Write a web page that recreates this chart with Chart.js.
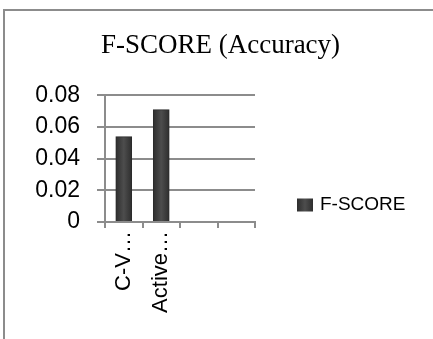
<!DOCTYPE html>
<html>
<head>
<meta charset="utf-8">
<script src="https://cdn.jsdelivr.net/npm/chart.js@4.4.1/dist/chart.umd.min.js"></script>
<style>
    html, body { margin: 0; padding: 0; background: #fff; overflow: hidden; }
    #frame {
        position: absolute; left: 3px; top: 9px; width: 520px; height: 420px;
        border-left: 2px solid #8c8c8c; border-top: 2px solid #8c8c8c;
    }
    #wrap { position: absolute; left: 0; top: 0; width: 433px; height: 339px; }
</style>
</head>
<body>
<div id="frame"></div>
<div id="wrap"><canvas id="fscoreChart" width="433" height="339"></canvas></div>
<script>
// Datos
const categorias = ['C-V…', 'Active…', '', ''];
const valoresFScore = [0.054, 0.071, null, null];
const ticksY = [0, 0.02, 0.04, 0.06, 0.08];

// Degradado horizontal de las barras (efecto de relieve)
function degradadoBarra(ctx, x0, ancho) {
    const g = ctx.createLinearGradient(x0, 0, x0 + ancho, 0);
    g.addColorStop(0, '#2e2e2e');
    g.addColorStop(0.5, '#4d4d4d');
    g.addColorStop(1, '#2e2e2e');
    return g;
}

// Leyenda a la derecha, dibujada a mano (la de Chart.js queda limitada de ancho)
const leyendaDerecha = {
    id: 'leyendaDerecha',
    afterDraw(chart) {
        const { ctx, chartArea } = chart;
        const ds = chart.data.datasets[0];
        const x = chartArea.right + 42;
        const y = chartArea.bottom - 17;
        ctx.save();
        ctx.fillStyle = degradadoBarra(ctx, x, 16);
        ctx.fillRect(x, y - 6.5, 16, 13);
        ctx.fillStyle = '#000';
        ctx.font = "19px 'Liberation Sans', Arial, sans-serif";
        ctx.textBaseline = 'middle';
        ctx.fillText(ds.label, x + 23, y);
        ctx.restore();
    }
};

document.addEventListener('DOMContentLoaded', function() {
    Chart.defaults.color = '#000';
    Chart.defaults.font.family = "'Liberation Sans', Arial, sans-serif";

    const ctx = document.getElementById('fscoreChart').getContext('2d');
    const fscoreChart = new Chart(ctx, {
        type: 'bar',
        data: {
            labels: categorias,
            datasets: [{
                label: 'F-SCORE',
                data: valoresFScore,
                backgroundColor: function(context) {
                    const chart = context.chart;
                    if (context.type !== 'data' || !chart.scales || !chart.scales.x) return '#3e3e3e';
                    const cx = chart.scales.x.getPixelForValue(context.dataIndex);
                    if (!isFinite(cx)) return '#3e3e3e';
                    return degradadoBarra(chart.ctx, cx - 8, 16);
                },
                borderColor: '#2b2b2b',
                borderWidth: 1,
                barThickness: 16
            }]
        },
        options: {
            responsive: false,
            animation: false,
            layout: { padding: { left: 12, right: 4, top: 0, bottom: 0 } },
            plugins: {
                title: {
                    display: true,
                    text: 'F-SCORE (Accuracy)',
                    font: { family: "'Liberation Serif', 'Times New Roman', serif", size: 27, weight: 'normal' },
                    padding: { top: 30, bottom: 33 }
                },
                legend: { display: false },
                tooltip: { enabled: false }
            },
            scales: {
                x: {
                    grid: { display: true, drawOnChartArea: false, offset: true, tickLength: 6, color: '#8c8c8c', lineWidth: 2 },
                    border: { display: true, color: '#8c8c8c', width: 2 },
                    ticks: { autoSkip: false, minRotation: 90, maxRotation: 90, padding: 3, font: { size: 22 } },
                    afterFit: function(scale) { scale.height = 117; }
                },
                y: {
                    min: 0,
                    max: 0.08,
                    afterBuildTicks: function(scale) { scale.ticks = ticksY.map(v => ({ value: v })); },
                    grid: { color: '#8c8c8c', lineWidth: 2, tickLength: 8 },
                    border: { display: true, color: '#8c8c8c', width: 2 },
                    ticks: { padding: 17, font: { size: 23 } },
                    afterFit: function(scale) { scale.width = 93; }
                },
                // eje vacío que reserva el hueco de la leyenda
                espacio: {
                    type: 'linear',
                    position: 'right',
                    grid: { display: false },
                    border: { display: false },
                    ticks: { display: false },
                    afterFit: function(scale) { scale.width = 174; }
                }
            }
        },
        plugins: [leyendaDerecha]
    });
});
</script>
</body>
</html>
